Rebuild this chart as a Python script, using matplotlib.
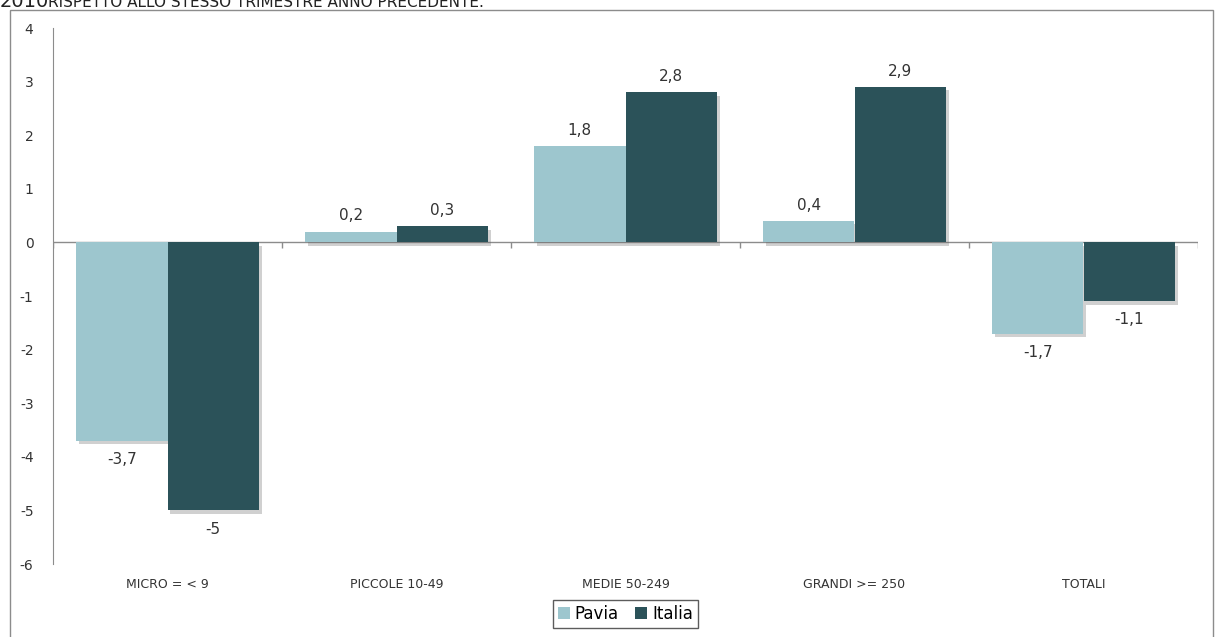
import matplotlib.pyplot as plt
import matplotlib.patheffects as pe
from matplotlib.patches import Rectangle
import numpy as np

# variazione % rispetto allo stesso trimestre anno precedente
categorie = ["MICRO = < 9", "PICCOLE 10-49", "MEDIE 50-249", "GRANDI >= 250", "TOTALI"]
pavia = [-3.7, 0.2, 1.8, 0.4, -1.7]
italia = [-5.0, 0.3, 2.8, 2.9, -1.1]
etichette_pavia = ["-3,7", "0,2", "1,8", "0,4", "-1,7"]
etichette_italia = ["-5", "0,3", "2,8", "2,9", "-1,1"]

col_pavia = "#9dc6ce"
col_italia = "#2b5259"
grigio = "#8c8c8c"

plt.rcParams["font.family"] = ["DejaVu Sans"]
plt.rcParams["axes.unicode_minus"] = False

fig = plt.figure(figsize=(12.16, 6.37), dpi=100)
ax = fig.add_axes([53 / 1216, 1 - 564 / 637, (1198 - 53) / 1216, (564 - 28) / 637])

x = np.arange(len(categorie))
w = 0.4
ombra = [pe.SimplePatchShadow(offset=(2, -2.5), shadow_rgbFace="#666666", alpha=0.3), pe.Normal()]
b1 = ax.bar(x - w / 2, pavia, w, color=col_pavia, label="Pavia", zorder=3, path_effects=ombra)
b2 = ax.bar(x + w / 2, italia, w, color=col_italia, label="Italia", zorder=3, path_effects=ombra)

for barre, valori, testi in [(b1, pavia, etichette_pavia), (b2, italia, etichette_italia)]:
    for b, v, t in zip(barre, valori, testi):
        if v >= 0:
            ax.annotate(t, (b.get_x() + b.get_width() / 2, v), xytext=(0, 6),
                        textcoords="offset points", ha="center", va="bottom",
                        fontsize=11, color="#333333")
        else:
            ax.annotate(t, (b.get_x() + b.get_width() / 2, v), xytext=(0, -8),
                        textcoords="offset points", ha="center", va="top",
                        fontsize=11, color="#333333")

ax.set_xlim(-0.5, len(categorie) - 0.5)
ax.set_ylim(-6, 4)
ax.set_yticks(range(-6, 5))
ax.set_xticks(x)
ax.set_xticklabels(categorie)
ax.tick_params(axis="x", length=0, pad=10, labelsize=9, labelcolor="#333333")
ax.tick_params(axis="y", length=0, pad=14, labelsize=10, labelcolor="#333333")

for s in ["top", "right", "bottom"]:
    ax.spines[s].set_visible(False)
ax.spines["left"].set_color(grigio)
ax.axhline(0, color=grigio, lw=1, zorder=2)
ax.vlines(np.arange(len(categorie) + 1) - 0.5, -0.1, 0, color=grigio, lw=1, zorder=2)

leg = ax.legend(loc="center", bbox_to_anchor=(0.5, -0.093), ncol=2, frameon=True,
                fancybox=False, edgecolor="#333333", fontsize=12, handlelength=0.7,
                handleheight=0.7, handletextpad=0.3, columnspacing=1.0, borderpad=0.3)
leg.get_frame().set_linewidth(1)
for h in leg.legend_handles:
    h.set_path_effects([])

# cornice dell'area grafico e titolo tagliato in alto
fig.patches.append(Rectangle((10 / 1216, -0.01), (1213 - 10) / 1216, 1 - 10 / 637 + 0.01,
                             transform=fig.transFigure, fill=False, edgecolor=grigio, lw=1))
fig.text(0.0, 1 - 7 / 637, "2010", fontsize=14, color="#222222", va="baseline")
fig.text(48 / 1216, 1 - 7 / 637, "RISPETTO ALLO STESSO TRIMESTRE ANNO PRECEDENTE.",
         fontsize=11, color="#222222", va="baseline")

fig.savefig("out.png", dpi=100)
